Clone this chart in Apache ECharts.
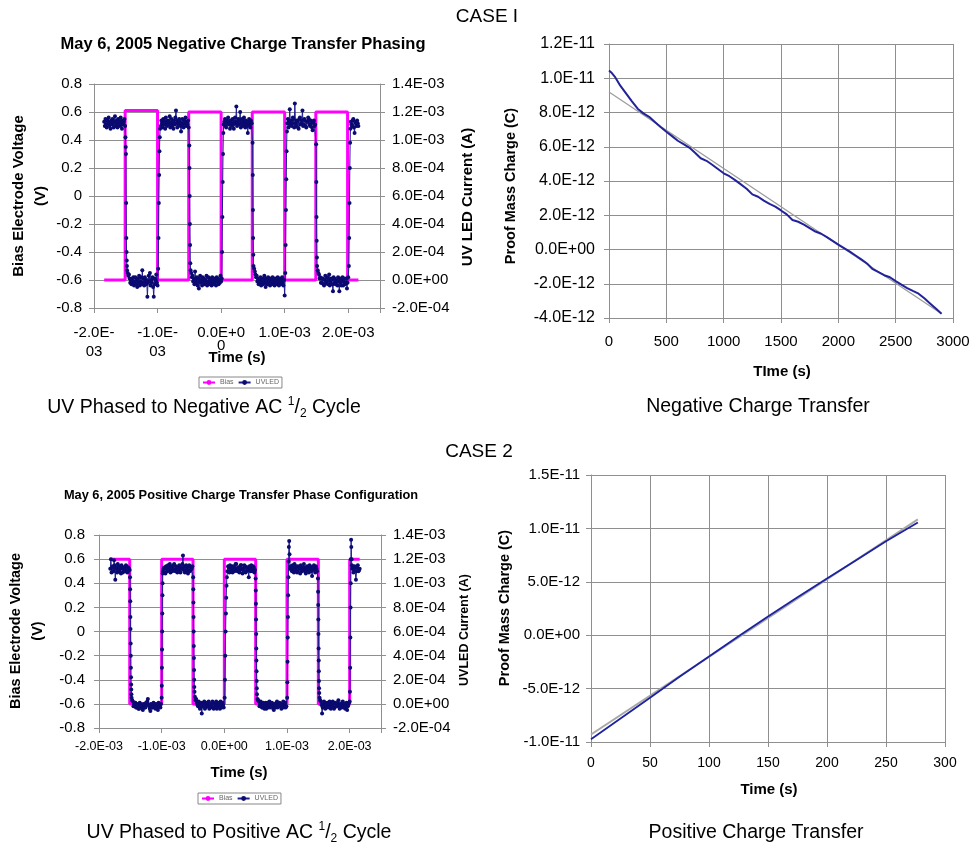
<!DOCTYPE html>
<html><head><meta charset="utf-8">
<script src="https://cdn.jsdelivr.net/npm/echarts@6/dist/echarts.min.js"></script>
<style>html,body{margin:0;padding:0;background:#fff}#c{width:974px;height:850px}</style>
</head><body><div id="c"></div>
<script>
// ---------- tick labels ----------
var xTicksCase1 = ['-2.0E-\n03','-1.0E-\n03','0.0E+0\n0','1.0E-03','2.0E-03'];      // ms axis, -2..2 step 1
var xTicksCase2 = ['-2.0E-03','-1.0E-03','0.0E+00','1.0E-03','2.0E-03'];
var biasTicks = ['-0.8','-0.6','-0.4','-0.2','0','0.2','0.4','0.6','0.8'];
var uvTicks = ['-2.0E-04','0.0E+00','2.0E-04','4.0E-04','6.0E-04','8.0E-04','1.0E-03','1.2E-03','1.4E-03'];
var negQTicks = ['-4.0E-12','-2.0E-12','0.0E+00','2.0E-12','4.0E-12','6.0E-12','8.0E-12','1.0E-11','1.2E-11'];
var negTTicks = ['0','500','1000','1500','2000','2500','3000'];
var posQTicks = ['-1.0E-11','-5.0E-12','0.0E+00','5.0E-12','1.0E-11','1.5E-11'];
var posTTicks = ['0','50','100','150','200','250','300'];

// ---------- data (time in ms, bias in V, UV LED current in mA) ----------
var bias1 = [[-1.84,-0.6],[-1.51,-0.6],[-1.51,0.61],[-1.0,0.61],[-1.0,-0.6],[-0.51,-0.6],[-0.51,0.6],[0.0,0.6],[0.0,-0.6],[0.49,-0.6],[0.49,0.6],[1.0,0.6],[1.0,-0.6],[1.49,-0.6],[1.49,0.6],[1.99,0.6],[1.99,-0.6],[2.16,-0.6]];
var uvled1 = [
 [-1.84,1.13],[-1.83,1.10],[-1.82,1.15],[-1.81,1.11],[-1.80,1.09],[-1.79,1.14],[-1.78,1.12],[-1.77,1.16],[-1.76,1.10],[-1.75,1.13],[-1.74,1.08],[-1.73,1.14],[-1.72,1.11],[-1.71,1.15],[-1.70,1.12],[-1.69,1.09],[-1.68,1.13],[-1.67,1.17],[-1.66,1.10],[-1.65,1.12],[-1.64,1.14],[-1.63,1.09],[-1.62,1.15],[-1.61,1.11],[-1.60,1.13],[-1.59,1.10],[-1.58,1.16],[-1.57,1.12],[-1.56,1.08],[-1.55,1.14],[-1.54,1.11],[-1.53,1.13],[-1.52,1.15],[-1.51,1.10],
 [-1.505,1.02],[-1.500,0.95],[-1.497,0.90],[-1.494,0.55],[-1.491,0.30],[-1.488,0.20],[-1.485,0.14],[-1.482,0.10],
 [-1.48,0.07],[-1.47,0.05],[-1.46,0.03],[-1.45,0.04],[-1.44,0.01],[-1.43,-0.02],[-1.42,0.00],[-1.41,-0.03],[-1.40,0.01],[-1.39,-0.02],[-1.38,0.02],[-1.37,-0.04],[-1.36,-0.01],[-1.35,0.02],[-1.34,-0.03],[-1.33,0.00],[-1.32,-0.05],[-1.31,0.01],[-1.30,-0.02],[-1.29,0.03],[-1.28,-0.04],[-1.27,-0.01],[-1.26,0.02],[-1.25,-0.03],[-1.24,0.07],[-1.23,-0.02],[-1.22,0.01],[-1.21,-0.04],[-1.20,0.02],[-1.19,-0.01],[-1.18,-0.03],[-1.17,0.00],[-1.16,-0.12],[-1.15,-0.02],[-1.14,0.03],[-1.13,-0.01],[-1.12,0.05],[-1.11,-0.04],[-1.10,0.00],[-1.09,-0.02],[-1.08,0.02],[-1.07,-0.05],[-1.06,-0.12],[-1.05,0.01],[-1.04,-0.03],[-1.03,0.00],[-1.02,0.04],[-1.01,-0.02],[-1.00,-0.04],
 [-0.99,0.08],[-0.985,0.30],[-0.98,0.55],[-0.975,0.75],[-0.97,0.92],[-0.965,1.02],[-0.96,1.08],
 [-0.95,1.10],[-0.94,1.14],[-0.93,1.12],[-0.92,1.09],[-0.91,1.15],[-0.90,1.11],[-0.89,1.13],[-0.88,1.08],[-0.87,1.16],[-0.86,1.12],[-0.85,1.10],[-0.84,1.14],[-0.83,1.11],[-0.82,1.13],[-0.81,1.17],[-0.80,1.09],[-0.79,1.12],[-0.78,1.15],[-0.77,1.10],[-0.76,1.13],[-0.75,1.08],[-0.74,1.14],[-0.73,1.11],[-0.72,1.16],[-0.71,1.21],[-0.70,1.12],[-0.69,1.09],[-0.68,1.14],[-0.67,1.11],[-0.66,1.15],[-0.65,1.13],[-0.64,1.10],[-0.63,1.06],[-0.62,1.12],[-0.61,1.15],[-0.60,1.11],[-0.59,1.09],[-0.58,1.14],[-0.57,1.12],[-0.56,1.16],[-0.55,1.10],[-0.54,1.13],[-0.53,1.11],[-0.52,1.14],[-0.51,1.09],
 [-0.50,0.96],[-0.497,0.80],[-0.494,0.60],[-0.491,0.40],[-0.488,0.25],[-0.485,0.12],[-0.48,0.07],
 [-0.47,0.05],[-0.46,0.02],[-0.45,0.03],[-0.44,-0.01],[-0.43,0.01],[-0.42,-0.03],[-0.41,0.06],[-0.40,0.00],[-0.39,-0.02],[-0.38,0.02],[-0.37,-0.04],[-0.36,0.01],[-0.35,-0.06],[-0.34,-0.01],[-0.33,0.03],[-0.32,-0.02],[-0.31,0.00],[-0.30,-0.04],[-0.29,0.02],[-0.28,-0.01],[-0.27,0.01],[-0.26,-0.03],[-0.25,0.00],[-0.24,-0.02],[-0.23,0.03],[-0.22,-0.04],[-0.21,-0.01],[-0.20,0.02],[-0.19,-0.03],[-0.18,0.00],[-0.17,-0.02],[-0.16,0.01],[-0.15,-0.04],[-0.14,0.02],[-0.13,-0.01],[-0.12,-0.03],[-0.11,0.01],[-0.10,-0.02],[-0.09,0.00],[-0.08,-0.04],[-0.07,0.02],[-0.06,-0.01],[-0.05,0.01],[-0.04,-0.03],[-0.03,0.00],[-0.02,-0.02],[-0.01,0.03],[0.00,-0.01],[0.01,0.01],
 [0.015,0.20],[0.02,0.45],[0.025,0.70],[0.03,0.90],[0.035,1.05],
 [0.04,1.11],[0.05,1.13],[0.06,1.15],[0.07,1.10],[0.08,1.09],[0.09,1.14],[0.10,1.12],[0.11,1.16],[0.12,1.11],[0.13,1.13],[0.14,1.08],[0.15,1.14],[0.16,1.12],[0.17,1.10],[0.18,1.15],[0.19,1.11],[0.20,1.08],[0.21,1.13],[0.22,1.16],[0.23,1.12],[0.24,1.24],[0.25,1.10],[0.26,1.13],[0.27,1.15],[0.28,1.11],[0.29,1.14],[0.30,1.20],[0.31,1.09],[0.32,1.12],[0.33,1.15],[0.34,1.10],[0.35,1.13],[0.36,1.16],[0.37,1.11],[0.38,1.09],[0.39,1.14],[0.40,1.12],[0.41,1.10],[0.42,1.05],[0.43,1.13],[0.44,1.15],[0.45,1.11],[0.46,1.09],[0.47,1.14],[0.48,1.12],
 [0.495,0.98],[0.498,0.75],[0.501,0.50],[0.504,0.30],[0.507,0.18],[0.51,0.10],
 [0.52,0.08],[0.53,0.06],[0.54,0.04],[0.55,0.02],[0.56,0.03],[0.57,-0.01],[0.58,0.01],[0.59,-0.03],[0.60,0.00],[0.61,-0.02],[0.62,0.02],[0.63,-0.04],[0.64,-0.01],[0.65,0.01],[0.66,-0.03],[0.67,0.00],[0.68,0.03],[0.69,-0.02],[0.70,-0.05],[0.71,0.01],[0.72,-0.01],[0.73,-0.03],[0.74,0.02],[0.75,-0.02],[0.76,0.00],[0.77,-0.04],[0.78,0.01],[0.79,-0.01],[0.80,-0.03],[0.81,0.02],[0.82,0.00],[0.83,-0.02],[0.84,-0.04],[0.85,0.01],[0.86,-0.01],[0.87,-0.03],[0.88,0.00],[0.89,0.02],[0.90,-0.02],[0.91,-0.04],[0.92,0.01],[0.93,-0.01],[0.94,-0.03],[0.95,0.00],[0.96,0.02],[0.97,-0.02],[0.98,-0.04],[0.99,0.00],[1.00,-0.11],
 [1.01,0.05],[1.015,0.25],[1.02,0.50],[1.025,0.72],[1.03,0.92],[1.035,1.06],
 [1.04,1.12],[1.05,1.15],[1.06,1.09],[1.07,1.13],[1.08,1.22],[1.09,1.11],[1.10,1.14],[1.11,1.10],[1.12,1.12],[1.13,1.16],[1.14,1.15],[1.15,1.09],[1.16,1.26],[1.17,1.12],[1.18,1.10],[1.19,1.14],[1.20,1.13],[1.21,1.09],[1.22,1.08],[1.23,1.15],[1.24,1.16],[1.25,1.11],[1.26,1.12],[1.27,1.14],[1.28,1.21],[1.29,1.10],[1.30,1.11],[1.31,1.15],[1.32,1.14],[1.33,1.10],[1.34,1.09],[1.35,1.13],[1.36,1.13],[1.37,1.16],[1.38,1.15],[1.39,1.11],[1.40,1.10],[1.41,1.14],[1.42,1.12],[1.43,1.09],[1.44,1.07],[1.45,1.13],[1.46,1.14],[1.47,1.10],[1.48,1.11],
 [1.495,0.97],[1.498,0.70],[1.501,0.45],[1.504,0.28],[1.507,0.16],[1.51,0.10],
 [1.52,0.07],[1.53,0.05],[1.54,0.04],[1.55,0.01],[1.56,0.02],[1.57,-0.02],[1.58,-0.02],[1.59,0.01],[1.60,0.01],[1.61,-0.03],[1.62,-0.04],[1.63,0.00],[1.64,0.03],[1.65,-0.02],[1.66,-0.01],[1.67,0.02],[1.68,-0.03],[1.69,0.00],[1.70,0.04],[1.71,-0.04],[1.72,-0.02],[1.73,0.01],[1.74,0.00],[1.75,-0.03],[1.76,-0.08],[1.77,0.02],[1.78,0.01],[1.79,-0.02],[1.80,-0.03],[1.81,0.00],[1.82,-0.01],[1.83,-0.04],[1.84,0.02],[1.85,-0.01],[1.86,-0.08],[1.87,0.01],[1.88,-0.02],[1.89,-0.04],[1.90,0.00],[1.91,0.02],[1.92,-0.04],[1.93,-0.01],[1.94,0.01],[1.95,-0.03],[1.96,-0.02],[1.97,0.01],[1.98,-0.06],[1.99,-0.02],[2.00,0.02],
 [2.01,0.10],[2.015,0.30],[2.02,0.55],[2.025,0.80],[2.03,0.98],[2.035,1.08],
 [2.04,1.13],[2.05,1.11],[2.06,1.10],[2.07,1.14],[2.08,1.15],[2.09,1.09],[2.10,1.05],[2.11,1.13],[2.12,1.12],[2.13,1.10],[2.14,1.14],[2.15,1.12],[2.16,1.10]
];
var bias2 = [[-1.82,0.6],[-1.51,0.6],[-1.51,-0.6],[-1.0,-0.6],[-1.0,0.6],[-0.5,0.6],[-0.5,-0.6],[0.0,-0.6],[0.0,0.6],[0.5,0.6],[0.5,-0.6],[1.0,-0.6],[1.0,0.6],[1.5,0.6],[1.5,-0.6],[2.0,-0.6],[2.0,0.6],[2.16,0.6]];
var uvled2 = [
 [-1.82,1.12],[-1.81,1.20],[-1.80,1.09],[-1.79,1.13],[-1.78,1.14],[-1.77,1.10],[-1.76,1.19],[-1.75,1.15],[-1.74,1.03],[-1.73,1.12],[-1.72,1.13],[-1.71,1.09],[-1.70,1.16],[-1.69,1.11],[-1.68,1.10],[-1.67,1.14],[-1.66,1.12],[-1.65,1.08],[-1.64,1.15],[-1.63,1.13],[-1.62,1.09],[-1.61,1.12],[-1.60,1.13],[-1.59,1.10],[-1.58,1.11],[-1.57,1.15],[-1.56,1.14],[-1.55,1.09],[-1.54,1.10],[-1.53,1.13],[-1.52,1.12],[-1.51,1.11],
 [-1.505,1.05],[-1.503,0.95],[-1.501,0.85],[-1.499,0.72],[-1.497,0.62],[-1.495,0.50],[-1.493,0.40],[-1.491,0.30],[-1.489,0.22],[-1.487,0.16],[-1.485,0.12],[-1.483,0.08],
 [-1.48,0.05],[-1.47,0.03],[-1.46,0.02],[-1.45,-0.02],[-1.44,-0.01],[-1.43,0.01],[-1.42,0.01],[-1.41,-0.03],[-1.40,-0.03],[-1.39,0.00],[-1.38,-0.01],[-1.37,-0.04],[-1.36,-0.04],[-1.35,0.01],[-1.34,0.00],[-1.33,-0.02],[-1.32,-0.02],[-1.31,-0.04],[-1.30,-0.05],[-1.29,0.00],[-1.28,-0.01],[-1.27,-0.03],[-1.26,-0.03],[-1.25,0.01],[-1.24,0.00],[-1.23,0.02],[-1.22,0.04],[-1.21,-0.01],[-1.20,-0.02],[-1.19,-0.04],[-1.18,-0.06],[-1.17,0.00],[-1.16,-0.01],[-1.15,-0.03],[-1.14,-0.03],[-1.13,0.01],[-1.12,0.00],[-1.11,-0.02],[-1.10,-0.04],[-1.09,0.00],[-1.08,-0.02],[-1.07,-0.03],[-1.06,-0.05],[-1.05,0.01],[-1.04,-0.01],[-1.03,-0.02],[-1.02,-0.03],[-1.01,0.00],
 [-1.0,0.05],[-0.998,0.15],[-0.996,0.30],[-0.994,0.45],[-0.992,0.60],[-0.99,0.75],[-0.988,0.90],[-0.986,1.00],[-0.984,1.08],
 [-0.98,1.10],[-0.97,1.12],[-0.96,1.13],[-0.95,1.09],[-0.94,1.08],[-0.93,1.14],[-0.92,1.12],[-0.91,1.10],[-0.90,1.15],[-0.89,1.13],[-0.88,1.11],[-0.87,1.16],[-0.86,1.09],[-0.85,1.12],[-0.84,1.14],[-0.83,1.10],[-0.82,1.12],[-0.81,1.15],[-0.80,1.16],[-0.79,1.11],[-0.78,1.10],[-0.77,1.14],[-0.76,1.13],[-0.75,1.09],[-0.74,1.11],[-0.73,1.12],[-0.72,1.15],[-0.71,1.10],[-0.70,1.09],[-0.69,1.13],[-0.68,1.12],[-0.67,1.16],[-0.66,1.23],[-0.65,1.11],[-0.64,1.14],[-0.63,1.09],[-0.62,1.10],[-0.61,1.15],[-0.60,1.13],[-0.59,1.11],[-0.58,1.08],[-0.57,1.14],[-0.56,1.15],[-0.55,1.10],[-0.54,1.11],[-0.53,1.13],[-0.52,1.12],[-0.51,1.14],
 [-0.497,1.05],[-0.495,0.95],[-0.493,0.84],[-0.491,0.72],[-0.489,0.60],[-0.487,0.48],[-0.485,0.38],[-0.483,0.28],[-0.481,0.20],[-0.479,0.14],[-0.476,0.10],[-0.47,0.06],
 [-0.46,0.03],[-0.45,0.04],[-0.44,0.01],[-0.43,-0.01],[-0.42,-0.02],[-0.41,0.02],[-0.40,0.00],[-0.39,-0.04],[-0.38,-0.03],[-0.37,0.01],[-0.36,-0.08],[-0.35,-0.02],[-0.34,-0.01],[-0.33,0.01],[-0.32,0.02],[-0.31,-0.04],[-0.30,-0.03],[-0.29,0.00],[-0.28,0.01],[-0.27,-0.02],[-0.26,-0.02],[-0.25,0.02],[-0.24,-0.04],[-0.23,-0.01],[-0.22,0.00],[-0.21,-0.03],[-0.20,-0.02],[-0.19,0.02],[-0.18,0.01],[-0.17,-0.04],[-0.16,-0.03],[-0.15,0.00],[-0.14,-0.01],[-0.13,0.02],[-0.12,-0.04],[-0.11,-0.02],[-0.10,0.00],[-0.09,0.01],[-0.08,-0.02],[-0.07,-0.04],[-0.06,0.02],[-0.05,0.00],[-0.04,-0.03],[-0.03,0.01],[-0.02,-0.01],[-0.01,-0.03],
 [0.005,0.05],[0.01,0.20],[0.015,0.40],[0.02,0.60],[0.025,0.75],[0.03,0.88],[0.035,0.98],[0.04,1.05],
 [0.05,1.10],[0.06,1.14],[0.07,1.13],[0.08,1.09],[0.09,1.15],[0.10,1.12],[0.11,1.11],[0.12,1.14],[0.13,1.09],[0.14,1.13],[0.15,1.14],[0.16,1.10],[0.17,1.12],[0.18,1.16],[0.19,1.16],[0.20,1.11],[0.21,1.10],[0.22,1.13],[0.23,1.13],[0.24,1.09],[0.25,1.11],[0.26,1.15],[0.27,1.15],[0.28,1.12],[0.29,1.08],[0.30,1.11],[0.31,1.12],[0.32,1.15],[0.33,1.14],[0.34,1.09],[0.35,1.10],[0.36,1.13],[0.37,1.13],[0.38,1.11],[0.39,1.05],[0.40,1.14],[0.41,1.12],[0.42,1.10],[0.43,1.15],[0.44,1.12],[0.45,1.10],[0.46,1.14],[0.47,1.13],[0.48,1.09],[0.49,1.11],
 [0.500,1.04],[0.502,0.94],[0.504,0.83],[0.506,0.70],[0.508,0.58],[0.510,0.46],[0.512,0.36],[0.514,0.27],[0.516,0.19],[0.518,0.13],[0.521,0.08],
 [0.53,0.04],[0.54,0.03],[0.55,0.02],[0.56,-0.02],[0.57,-0.01],[0.58,0.02],[0.59,0.01],[0.60,-0.03],[0.61,-0.03],[0.62,0.01],[0.63,0.00],[0.64,-0.04],[0.65,-0.02],[0.66,0.01],[0.67,-0.04],[0.68,-0.01],[0.69,0.01],[0.70,-0.03],[0.71,-0.01],[0.72,0.02],[0.73,-0.03],[0.74,-0.02],[0.75,0.00],[0.76,0.01],[0.77,-0.02],[0.78,-0.04],[0.79,-0.05],[0.80,0.00],[0.81,-0.01],[0.82,-0.03],[0.83,0.01],[0.84,0.02],[0.85,-0.03],[0.86,-0.01],[0.87,-0.02],[0.88,0.01],[0.89,0.00],[0.90,-0.02],[0.91,-0.04],[0.92,0.00],[0.93,-0.01],[0.94,0.02],[0.95,-0.03],[0.96,-0.01],[0.97,0.01],[0.98,-0.03],[0.99,-0.02],
 [1.003,0.05],[1.006,0.18],[1.009,0.35],[1.012,0.55],[1.015,0.72],[1.018,0.90],[1.022,1.05],[1.026,1.18],[1.03,1.30],[1.035,1.35],[1.04,1.24],
 [1.05,1.12],[1.06,1.14],[1.07,1.11],[1.08,1.10],[1.09,1.15],[1.10,1.13],[1.11,1.09],[1.12,1.16],[1.13,1.12],[1.14,1.11],[1.15,1.14],[1.16,1.09],[1.17,1.10],[1.18,1.14],[1.19,1.13],[1.20,1.12],[1.21,1.08],[1.22,1.15],[1.23,1.13],[1.24,1.10],[1.25,1.12],[1.26,1.13],[1.27,1.16],[1.28,1.11],[1.29,1.10],[1.30,1.08],[1.31,1.13],[1.32,1.14],[1.33,1.11],[1.34,1.12],[1.35,1.09],[1.36,1.15],[1.37,1.14],[1.38,1.10],[1.39,1.12],[1.40,1.06],[1.41,1.11],[1.42,1.13],[1.43,1.15],[1.44,1.11],[1.45,1.09],[1.46,1.14],[1.47,1.12],[1.48,1.10],
 [1.494,1.04],[1.496,0.93],[1.498,0.82],[1.500,0.70],[1.502,0.58],[1.504,0.46],[1.506,0.36],[1.508,0.27],[1.510,0.19],[1.512,0.13],[1.515,0.09],
 [1.52,0.05],[1.53,0.03],[1.54,0.02],[1.55,-0.01],[1.56,-0.08],[1.57,-0.03],[1.58,0.00],[1.59,0.02],[1.60,-0.02],[1.61,-0.04],[1.62,0.01],[1.63,0.00],[1.64,-0.03],[1.65,0.01],[1.66,-0.01],[1.67,-0.03],[1.68,0.02],[1.69,0.00],[1.70,-0.04],[1.71,-0.02],[1.72,-0.01],[1.73,0.02],[1.74,0.01],[1.75,-0.04],[1.76,-0.03],[1.77,0.01],[1.78,0.00],[1.79,-0.02],[1.80,-0.02],[1.81,0.01],[1.82,0.03],[1.83,-0.01],[1.84,-0.04],[1.85,0.00],[1.86,-0.01],[1.87,-0.03],[1.88,0.01],[1.89,0.02],[1.90,-0.03],[1.91,-0.01],[1.92,0.00],[1.93,-0.04],[1.94,-0.02],[1.95,0.01],[1.96,-0.05],[1.97,-0.02],[1.98,-0.01],[1.99,0.01],[2.00,0.02],
 [2.004,0.10],[2.008,0.30],[2.011,0.55],[2.014,0.80],[2.017,1.00],[2.02,1.20],[2.023,1.36],[2.026,1.30],[2.03,1.20],[2.034,1.15],
 [2.04,1.12],[2.05,1.14],[2.06,1.09],[2.07,1.11],[2.08,1.14],[2.09,1.13],[2.10,1.03],[2.11,1.10],[2.12,1.13],[2.13,1.15],[2.14,1.10],[2.15,1.11],[2.16,1.12]
];
// proof mass charge in pC (1E-12 C), time in s
var negCharge = [[0,10.45],[25,10.3],[50,10.1],[100,9.55],[150,9.1],[200,8.65],[250,8.22],[300,7.95],[350,7.75],[400,7.45],[450,7.15],[500,6.88],[550,6.62],[600,6.35],[650,6.15],[700,5.95],[750,5.65],[800,5.33],[850,5.18],[900,4.95],[950,4.7],[1000,4.45],[1050,4.28],[1100,4.05],[1150,3.8],[1200,3.55],[1250,3.22],[1300,3.08],[1350,2.85],[1400,2.66],[1450,2.5],[1500,2.28],[1550,2.05],[1600,1.72],[1650,1.62],[1700,1.45],[1750,1.25],[1800,1.05],[1850,0.92],[1900,0.72],[1950,0.5],[2000,0.28],[2050,0.08],[2100,-0.12],[2150,-0.35],[2200,-0.58],[2250,-0.82],[2300,-1.15],[2350,-1.32],[2400,-1.5],[2450,-1.62],[2500,-1.85],[2550,-2.05],[2600,-2.25],[2650,-2.42],[2700,-2.58],[2750,-2.85],[2800,-3.15],[2850,-3.45],[2900,-3.75]];
var negTrend = [[0,9.2],[2900,-3.75]];
var posCharge = [[0,-9.75],[25,-7.8],[50,-5.85],[75,-3.9],[100,-2.0],[125,-0.1],[150,1.75],[175,3.55],[200,5.3],[225,7.05],[250,8.8],[277,10.55]];
var posTrend = [[0,-9.3],[277,10.85]];

// ---------- helpers ----------
var FF = "'Liberation Sans', Arial, sans-serif";
function lab(arr, min, step){
  return function(v){
    var i = Math.round((v - min) / step);
    if (i < 0 || i >= arr.length || Math.abs(v - (min + i * step)) > step * 1e-3) return '';
    return arr[i];
  };
}
var GRID = '#8f8f8f';
function axisBase(){
  return {
    axisLine:{show:true, onZero:false, lineStyle:{color:GRID, width:1}},
    axisTick:{show:true, inside:false, length:5, lineStyle:{color:GRID}},
    splitLine:{show:false, lineStyle:{color:GRID, width:1}},
    axisLabel:{color:'#000', fontFamily:FF, fontSize:15}
  };
}
function mk(extra){
  var b = axisBase();
  for (var k in extra){
    if (typeof extra[k] === 'object' && b[k] && !Array.isArray(extra[k])) {
      for (var j in extra[k]) b[k][j] = extra[k][j];
    } else b[k] = extra[k];
  }
  return b;
}

var x1lab = lab(xTicksCase1, -2, 1);
var UV_LINE = '#1e1e90', UV_DOT = '#0a0a70';
var option = {
  animation:false,
  backgroundColor:'#fff',
  grid:[
    {left:94, top:84, width:286, height:224, outerBoundsMode:'none'},
    {left:609, top:44, width:344, height:274, outerBoundsMode:'none'},
    {left:99, top:535, width:282, height:193, outerBoundsMode:'none'},
    {left:591, top:475, width:354, height:267, outerBoundsMode:'none'}
  ],
  xAxis:[
    mk({type:'value', gridIndex:0, min:-2, max:2.5, interval:1,
      axisLabel:{margin:15, formatter:function(v){
        var s = x1lab(v); if(!s) return '';
        var p = s.split('\n');
        if (p.length < 2) return '{a|' + p[0] + '}';
        return '{a|' + p[0] + '}\n{' + (p[1].length < 2 ? 'c' : 'b') + '|' + p[1] + '}';
      }, rich:{a:{fontSize:15, lineHeight:19, fontFamily:FF, color:'#000'}, b:{fontSize:15, lineHeight:19, fontFamily:FF, color:'#000'}, c:{fontSize:15, lineHeight:7, fontFamily:FF, color:'#000'}}}}),
    mk({type:'value', gridIndex:1, min:0, max:3000, interval:500,
      splitLine:{show:true}, axisLabel:{margin:16, fontSize:15, formatter:lab(negTTicks,0,500)}}),
    mk({type:'value', gridIndex:2, min:-2, max:2.5, interval:1,
      axisLabel:{margin:12, fontSize:12.5, formatter:lab(xTicksCase2,-2,1)}}),
    mk({type:'value', gridIndex:3, min:0, max:300, interval:50,
      splitLine:{show:true}, axisLabel:{margin:14, fontSize:14, formatter:lab(posTTicks,0,50)}})
  ],
  yAxis:[
    mk({type:'value', gridIndex:0, position:'left', min:-0.8, max:0.8, interval:0.2,
      splitLine:{show:true}, axisLabel:{margin:12, fontSize:15, formatter:lab(biasTicks,-0.8,0.2)}}),
    mk({type:'value', gridIndex:0, position:'right', min:-0.2, max:1.4, interval:0.2,
      axisLabel:{margin:12, fontSize:15, formatter:lab(uvTicks,-0.2,0.2)}}),
    mk({type:'value', gridIndex:1, position:'left', min:-4, max:12, interval:2,
      splitLine:{show:true}, axisLabel:{margin:14, fontSize:16, formatter:lab(negQTicks,-4,2)}}),
    mk({type:'value', gridIndex:2, position:'left', min:-0.8, max:0.8, interval:0.2,
      splitLine:{show:true}, axisLabel:{margin:14, fontSize:15, formatter:lab(biasTicks,-0.8,0.2)}}),
    mk({type:'value', gridIndex:2, position:'right', min:-0.2, max:1.4, interval:0.2,
      axisLabel:{margin:12, fontSize:15, formatter:lab(uvTicks,-0.2,0.2)}}),
    mk({type:'value', gridIndex:3, position:'left', min:-10, max:15, interval:5,
      splitLine:{show:true}, axisLabel:{margin:11, fontSize:15, formatter:lab(posQTicks,-10,5)}})
  ],
  legend:[
    {left:199, top:377, itemWidth:12, itemHeight:6, itemGap:4, padding:[2,3], borderColor:'#888', borderWidth:1, backgroundColor:'#fff',
     selectedMode:false, textStyle:{fontSize:7, color:'#666', fontFamily:FF}, data:['Bias','UVLED']},
    {left:198, top:793, itemWidth:12, itemHeight:6, itemGap:4, padding:[2,3], borderColor:'#888', borderWidth:1, backgroundColor:'#fff',
     selectedMode:false, textStyle:{fontSize:7, color:'#666', fontFamily:FF}, data:['Bias','UVLED']}
  ],
  series:[
    {name:'Bias', type:'line', xAxisIndex:0, yAxisIndex:0, data:bias1, symbol:'none',
     lineStyle:{color:'#ff00ff', width:3}, itemStyle:{color:'#ff00ff'}, z:2},
    {name:'UVLED', type:'line', xAxisIndex:0, yAxisIndex:1, data:uvled1, symbol:'circle', symbolSize:4, showAllSymbol:true,
     lineStyle:{color:UV_LINE, width:1}, itemStyle:{color:UV_DOT}, z:3},
    {name:'Bias', type:'line', xAxisIndex:2, yAxisIndex:3, data:bias2, symbol:'none',
     lineStyle:{color:'#ff00ff', width:3}, itemStyle:{color:'#ff00ff'}, z:2},
    {name:'UVLED', type:'line', xAxisIndex:2, yAxisIndex:4, data:uvled2, symbol:'circle', symbolSize:4, showAllSymbol:true,
     lineStyle:{color:UV_LINE, width:1}, itemStyle:{color:UV_DOT}, z:3},
    {name:'Trend (negative)', type:'line', xAxisIndex:1, yAxisIndex:2, data:negTrend, symbol:'none',
     lineStyle:{color:'#9a9a9a', width:1.2}, z:2},
    {name:'Charge (negative)', type:'line', xAxisIndex:1, yAxisIndex:2, data:negCharge, symbol:'none',
     lineStyle:{color:'#22229a', width:2}, z:3},
    {name:'Trend (positive)', type:'line', xAxisIndex:3, yAxisIndex:5, data:posTrend, symbol:'none',
     lineStyle:{color:'#a8a8a8', width:2}, z:2},
    {name:'Charge (positive)', type:'line', xAxisIndex:3, yAxisIndex:5, data:posCharge, symbol:'none',
     lineStyle:{color:'#1c22a0', width:1.8}, z:3}
  ],
  graphic:[]
};

function txt(x, y, s, font, rot){
  return {type:'text', x:x, y:y, rotation:rot || 0, silent:true,
    style:{text:s, font:font, fill:'#000', textAlign:'center', textVerticalAlign:'middle', lineHeight:22}};
}
function cap(x, y, pre, post){
  return {type:'text', x:x, y:y, silent:true,
    style:{text:pre + '{sup|1}/{sub|2}' + post, font:'19.5px ' + FF, fill:'#000', textAlign:'center', textVerticalAlign:'middle',
      rich:{sup:{fontSize:12, fontFamily:FF, verticalAlign:'top', lineHeight:24}, sub:{fontSize:12, fontFamily:FF, verticalAlign:'bottom', lineHeight:24}}}};
}
var R = Math.PI / 2;
option.graphic = [
  txt(487, 17, 'CASE I', '19px ' + FF),
  txt(479, 452, 'CASE 2', '19px ' + FF),
  txt(243, 44, 'May 6, 2005 Negative Charge Transfer Phasing', 'bold 16.5px ' + FF),
  txt(241, 495, 'May 6, 2005 Positive Charge Transfer Phase Configuration', 'bold 12.8px ' + FF),
  txt(30, 196, 'Bias Electrode Voltage\n(V)', 'bold 15px ' + FF, R),
  txt(468, 197, 'UV LED Current (A)', 'bold 15px ' + FF, R),
  txt(237, 358, 'Time (s)', 'bold 15px ' + FF),
  txt(511, 186, 'Proof Mass Charge (C)', 'bold 14.5px ' + FF, R),
  txt(782, 372, 'TIme (s)', 'bold 15px ' + FF),
  txt(27, 631, 'Bias Electrode Voltage\n(V)', 'bold 14.5px ' + FF, R),
  txt(465, 630, 'UVLED Current (A)', 'bold 12.5px ' + FF, R),
  txt(239, 773, 'Time (s)', 'bold 15px ' + FF),
  txt(505, 608, 'Proof Mass Charge (C)', 'bold 14.5px ' + FF, R),
  txt(769, 790, 'Time (s)', 'bold 15px ' + FF),
  cap(204, 408, 'UV Phased to Negative AC ', ' Cycle'),
  txt(758, 407, 'Negative Charge Transfer', '19.5px ' + FF),
  cap(239, 833, 'UV Phased to Positive AC ', ' Cycle'),
  txt(756, 833, 'Positive Charge Transfer', '19.5px ' + FF)
];

var chart = echarts.init(document.getElementById('c'), null, {renderer:'canvas'});
chart.setOption(option);
</script></body></html>
